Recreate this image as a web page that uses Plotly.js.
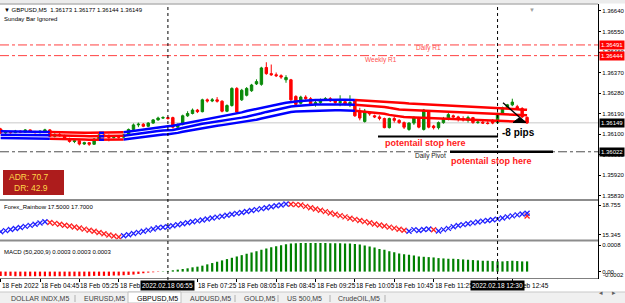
<!DOCTYPE html>
<html><head><meta charset="utf-8">
<script src="https://cdn.plot.ly/plotly-3.0.1.min.js"></script>
<style>html,body{margin:0;padding:0;background:#fff;overflow:hidden}#chart{width:625px;height:303px;}</style>
</head><body><div id="chart"></div>
<script>
// ---------- DATA ----------
const firstBarTime = "04:05";           // first visible M5 bar, 18 Feb 2022
const opens = [1.36122,1.36105,1.36109,1.36106,1.36113,1.36108,1.36118,1.36111,
1.36106,1.36113,1.36118,1.36090,1.36098,1.36092,1.36080,1.36067,1.36070,1.36056,
1.36062,1.36055,1.36078,1.36096,1.36090,1.36085,1.36088,1.36086,1.36096,1.36120,
1.36140,1.36143,1.36134,1.36148,1.36162,1.36170,1.36172,1.36172,1.36130,1.36142,
1.36180,1.36190,1.36205,1.36198,1.36250,1.36245,1.36250,1.36244,1.36200,1.36225,
1.36300,1.36250,1.36270,1.36290,1.36320,1.36318,1.36392,1.36365,1.36360,1.36356,
1.36338,1.36338,1.36265,1.36235,1.36262,1.36255,1.36230,1.36238,1.36250,1.36255,
1.36246,1.36238,1.36242,1.36232,1.36245,1.36200,1.36155,1.36195,1.36180,1.36175,
1.36168,1.36128,1.36168,1.36160,1.36150,1.36120,1.36148,1.36170,1.36120,1.36200,
1.36135,1.36128,1.36150,1.36165,1.36180,1.36175,1.36168,1.36160,1.36172,1.36150,
1.36152,1.36148,1.36160,1.36150,1.36190,1.36215,1.36228,1.36220,1.36212,1.36173];
const highs = [1.36127,1.36114,1.36112,1.36118,1.36116,1.36122,1.36120,1.36114,
1.36116,1.36123,1.36122,1.36103,1.36105,1.36097,1.36084,1.36075,1.36072,1.36066,
1.36065,1.36082,1.36100,1.36102,1.36098,1.36094,1.36095,1.36100,1.36124,1.36146,
1.36150,1.36148,1.36152,1.36166,1.36176,1.36178,1.36175,1.36176,1.36146,1.36185,
1.36200,1.36212,1.36210,1.36255,1.36256,1.36258,1.36262,1.36248,1.36230,1.36305,
1.36306,1.36298,1.36306,1.36320,1.36340,1.36395,1.36415,1.36405,1.36370,1.36362,
1.36358,1.36342,1.36270,1.36268,1.36270,1.36262,1.36248,1.36256,1.36262,1.36262,
1.36252,1.36270,1.36250,1.36270,1.36250,1.36215,1.36210,1.36200,1.36185,1.36182,
1.36172,1.36172,1.36178,1.36165,1.36155,1.36152,1.36178,1.36175,1.36210,1.36205,
1.36140,1.36155,1.36175,1.36192,1.36185,1.36180,1.36178,1.36180,1.36175,1.36158,
1.36158,1.36156,1.36165,1.36195,1.36220,1.36232,1.36255,1.36228,1.36218,1.36177];
const lows = [1.36100,1.36101,1.36102,1.36104,1.36104,1.36106,1.36108,1.36102,
1.36103,1.36110,1.36086,1.36085,1.36088,1.36076,1.36062,1.36060,1.36050,1.36052,
1.36048,1.36053,1.36075,1.36084,1.36068,1.36080,1.36079,1.36082,1.36092,1.36116,
1.36130,1.36130,1.36130,1.36145,1.36158,1.36166,1.36163,1.36124,1.36126,1.36138,
1.36175,1.36186,1.36192,1.36195,1.36238,1.36240,1.36238,1.36195,1.36196,1.36220,
1.36192,1.36245,1.36265,1.36285,1.36315,1.36312,1.36360,1.36355,1.36350,1.36342,
1.36325,1.36245,1.36225,1.36230,1.36250,1.36225,1.36220,1.36232,1.36245,1.36240,
1.36232,1.36222,1.36225,1.36218,1.36175,1.36160,1.36150,1.36180,1.36170,1.36160,
1.36125,1.36124,1.36150,1.36145,1.36122,1.36114,1.36140,1.36125,1.36115,1.36125,
1.36120,1.36120,1.36145,1.36160,1.36168,1.36155,1.36155,1.36150,1.36145,1.36145,
1.36144,1.36142,1.36143,1.36146,1.36185,1.36210,1.36222,1.36205,1.36170,1.36144];
const closes = [1.36105,1.36110,1.36106,1.36113,1.36108,1.36118,1.36111,1.36106,
1.36113,1.36118,1.36090,1.36098,1.36092,1.36080,1.36067,1.36070,1.36056,1.36062,
1.36055,1.36078,1.36096,1.36090,1.36085,1.36088,1.36086,1.36096,1.36120,1.36140,
1.36143,1.36134,1.36148,1.36162,1.36170,1.36172,1.36168,1.36130,1.36142,1.36180,
1.36190,1.36205,1.36198,1.36250,1.36245,1.36250,1.36244,1.36200,1.36225,1.36300,
1.36196,1.36292,1.36300,1.36315,1.36330,1.36390,1.36365,1.36360,1.36356,1.36350,
1.36348,1.36250,1.36230,1.36262,1.36255,1.36230,1.36238,1.36250,1.36255,1.36246,
1.36238,1.36242,1.36232,1.36238,1.36180,1.36170,1.36200,1.36188,1.36175,1.36168,
1.36128,1.36168,1.36160,1.36150,1.36130,1.36148,1.36172,1.36130,1.36205,1.36130,
1.36128,1.36150,1.36165,1.36185,1.36175,1.36168,1.36162,1.36172,1.36150,1.36152,
1.36148,1.36146,1.36148,1.36190,1.36215,1.36228,1.36240,1.36212,1.36175,1.36149];

// three-line moving-average band, 1 = blue (rising) segment, 0 = red
const maTop = [1.36112,1.36112,1.36111,1.36111,1.36111,1.36110,1.36110,1.36110,
1.36110,1.36110,1.36109,1.36109,1.36108,1.36108,1.36107,1.36107,1.36106,1.36106,1.36105,1.36105,1.36105,1.36105,1.36105,1.36105,1.36106,
1.36108,1.36111,1.36115,1.36118,1.36121,1.36125,1.36127,1.36129,1.36131,1.36134,1.36136,1.36140,1.36144,1.36149,1.36153,1.36158,1.36162,
1.36165,1.36169,1.36172,1.36176,1.36180,1.36184,1.36190,1.36195,1.36201,1.36206,1.36210,1.36215,1.36220,1.36224,1.36229,1.36233,1.36237,
1.36241,1.36243,1.36245,1.36247,1.36248,1.36249,1.36249,1.36250,1.36250,1.36250,1.36250,1.36250,1.36250,
1.36249,1.36248,1.36247,1.36246,1.36245,1.36244,1.36243,1.36241,1.36239,1.36237,1.36236,1.36234,1.36233,1.36232,1.36230,1.36229,1.36228,
1.36227,1.36226,1.36225,1.36224,1.36223,1.36222,1.36220,1.36219,1.36218,1.36217,1.36216,1.36216,1.36215,1.36213,1.36212,1.36210,1.36209,1.36207,1.36206];
const maMid = [1.36097,1.36097,1.36096,1.36096,1.36096,1.36096,1.36095,1.36095,
1.36095,1.36095,1.36094,1.36094,1.36093,1.36093,1.36092,1.36092,1.36091,1.36091,1.36090,1.36090,1.36090,1.36090,1.36090,1.36090,1.36091,
1.36092,1.36095,1.36099,1.36103,1.36106,1.36110,1.36112,1.36113,1.36115,1.36116,1.36118,1.36122,1.36127,1.36131,1.36136,1.36140,1.36145,
1.36148,1.36151,1.36154,1.36158,1.36161,1.36164,1.36168,1.36172,1.36176,1.36180,1.36186,1.36191,1.36197,1.36202,1.36207,1.36212,1.36216,
1.36221,1.36223,1.36225,1.36227,1.36228,1.36229,1.36229,1.36230,1.36230,1.36230,1.36230,1.36230,1.36230,
1.36228,1.36227,1.36225,1.36224,1.36222,1.36220,1.36219,1.36215,1.36211,1.36208,1.36207,1.36206,1.36205,1.36203,1.36202,1.36201,1.36200,
1.36199,1.36198,1.36197,1.36196,1.36195,1.36194,1.36194,1.36193,1.36192,1.36191,1.36190,1.36190,1.36189,1.36188,1.36187,1.36186,1.36184,1.36183,1.36182];
const maBot = [1.36082,1.36082,1.36081,1.36081,1.36081,1.36081,1.36080,1.36080,
1.36080,1.36080,1.36079,1.36079,1.36078,1.36078,1.36077,1.36077,1.36076,1.36076,1.36075,1.36075,1.36075,1.36075,1.36075,1.36075,1.36076,
1.36076,1.36079,1.36082,1.36086,1.36089,1.36092,1.36094,1.36096,1.36098,1.36099,1.36101,1.36105,1.36110,1.36114,1.36118,1.36123,1.36127,
1.36130,1.36133,1.36136,1.36139,1.36142,1.36145,1.36148,1.36151,1.36155,1.36158,1.36163,1.36168,1.36173,1.36178,1.36183,1.36188,1.36192,
1.36197,1.36199,1.36200,1.36201,1.36202,1.36203,1.36203,1.36204,1.36204,1.36204,1.36204,1.36204,1.36204,
1.36202,1.36200,1.36198,1.36196,1.36193,1.36191,1.36189,1.36184,1.36180,1.36176,1.36175,1.36174,1.36173,1.36172,1.36171,1.36170,1.36169,
1.36168,1.36167,1.36166,1.36165,1.36164,1.36164,1.36163,1.36162,1.36161,1.36160,1.36160,1.36159,1.36158,1.36157,1.36156,1.36155,1.36155,1.36154,1.36153];
const maUp = [1,1,1,1,1,1,1,1, 1,1, 0,0,0,0,0,0,0,0,0,0, 1, 0,0,0,0,
1,1,1,1,1,1,1,1,1,1,1,1,1,1,1,1,1,1,1,1,1,1,1,1,1,1,1,1,1,1,1,1,1,1,1,1,1,1,1,1,1,1,1,1,1,1,1,
0,0,0,0,0,0,0,0,0,0,0,0,0,0,0,0,0,0,0,0,0,0,0,0,0,0,0,0,0,0,0,0,0,0,0,0];

// Forex_Rainbow indicator values, 1 = blue cross, 0 = red cross
const rainbow = [15.72,15.84,15.96,16.08,16.20,16.32,16.44,16.56,16.70,16.84,
16.76,16.66,16.56,16.46,16.36,16.25,16.13,16.01,15.89,15.76,15.62,15.48,15.34,15.22,15.12,
15.25,15.38,15.51,15.64,15.77,15.90,16.03,16.16,16.23,16.29,16.40,16.51,16.62,16.73,16.84,16.95,17.05,
17.16,17.27,17.38,17.48,17.59,17.70,17.80,17.91,18.02,18.12,18.23,18.34,18.44,18.55,18.66,18.76,18.87,
18.84,18.80,18.75,18.60,18.45,18.30,18.15,18.00,17.85,17.70,17.55,17.40,17.25,17.12,16.99,16.86,16.73,
16.60,16.48,16.36,16.24,16.12,16.00,15.88,
15.76,15.95,15.86,15.96,16.02, 15.93,
15.80,15.95,16.10,16.28,16.42,16.52,16.62,16.72,16.82,16.92,17.00,17.08,17.15,17.28,17.40,17.52,17.63,17.74,17.82];
const rainbowUp = [1,1,1,1,1,1,1,1,1,1, 0,0,0,0,0,0,0,0,0,0,0,0,0,0,0,
1,1,1,1,1,1,1,1,1,1,1,1,1,1,1,1,1,1,1,1,1,1,1,1,1,1,1,1,1,1,1,1,1,1,
0,0,0,0,0,0,0,0,0,0,0,0,0,0,0,0,0,0,0,0,0,0,0,0, 1,1,1,1,1, 0,
1,1,1,1,1,1,1,1,1,1,1,1,1,1,1,1,1,1,1];
const rainbowRedLast = 17.50;

// MACD (50,200,9) histogram
const macd = [-0.00013,-0.00013,-0.00013,-0.00014,-0.00014,-0.00014,-0.00014,-0.00014,
-0.00014,-0.00014,-0.00014,-0.00014,-0.00014,-0.00014,-0.00014,-0.00014,-0.00014,-0.00014,-0.00014,
-0.00013,-0.00013,-0.00013,-0.00013,-0.00012,-0.00012,-0.00011,
-0.00010,-0.00009,-0.00007,-0.00005,-0.00003,-0.00002,-0.00001,0.00001,0.00002,
0.00004,0.00006,0.00008,0.00010,0.00013,0.00015,0.00018,0.00022,0.00026,0.00030,0.00034,0.00038,0.00042,
0.00046,0.00050,0.00054,0.00058,0.00062,0.00066,0.00070,0.00074,0.00077,0.00080,0.00083,0.00085,0.00086,
0.00087,0.00087,0.00087,0.00087,0.00087,0.00087,0.00086,0.00086,0.00086,0.00085,0.00085,0.00084,
0.00082,0.00079,0.00076,0.00073,0.00069,0.00066,0.00062,0.00059,0.00055,0.00053,0.00051,0.00049,
0.00046,0.00045,0.00044,0.00043,0.00041,0.00040,0.00039,0.00039,0.00038,0.00037,0.00036,0.00035,
0.00034,0.00033,0.00033,0.00032,0.00031,0.00031,0.00032,0.00033,0.00032,0.00031,0.00031];

// axis labels
const priceTicks = [1.36640,1.36550,1.36460,1.36370,1.36280,1.36190,1.36100,1.36010,1.35920,1.35830];
const rainbowTicks = [18.755, 15.345];
const macdTicks = [0.0008, 0];
const macdTickText = ["0.0008", "0.00"];
const timeTickBars = ["04:05","04:45","05:25","06:05","07:25","08:05","08:45","09:25","10:05","10:45","11:25","12:45"];
const timeTickText = ["18 Feb 2022","18 Feb 04:45","18 Feb 05:25","18 Feb 0","18 Feb 07:25","18 Feb 08:05","18 Feb 08:45","18 Feb 09:25","18 Feb 10:05","18 Feb 10:45","18 Feb 11:25","eb 12:45"];
const crossTimes = ["06:55","12:30"];
const crossText = ["2022.02.18 06:55","2022.02.18 12:30"];
const levels = {dailyR1:1.36491, weeklyR1:1.36444, dailyPivot:1.36022, bid:1.36149};
const tabs = ["DOLLAR INDX,M5","EURUSD,M5","GBPUSD,M5","AUDUSD,M5","GOLD,M5","US 500,M5","CrudeOIL,M5"];

// ---------- BUILD ----------
const W = 625, H = 303;
const px = v => v / W, py = v => 1 - v / H;
const [h0, m0] = firstBarTime.split(':').map(Number);
const times = opens.map((_, k) => { const m = h0 * 60 + m0 + 5 * k; return String(Math.floor(m / 60)).padStart(2, '0') + ':' + String(m % 60).padStart(2, '0'); });
const ix = t => times.indexOf(t);
const xi = p => ix("04:45") + (p - 40) / 4.92;

const FONT = "Liberation Sans, Arial, sans-serif";
const traces = [];
traces.push({type:'candlestick', x:times, open:opens, high:highs, low:lows, close:closes,
  xaxis:'x', yaxis:'y', whiskerwidth:0, hoverinfo:'skip',
  increasing:{line:{color:'#0a8a0a', width:1}, fillcolor:'#0a8a0a'},
  decreasing:{line:{color:'#ff0000', width:1}, fillcolor:'#ff0000'}});

function seg(vals, flags, want) {
  return vals.map((v, k) => (flags[k] === want || (k > 0 && flags[k - 1] === want)) ? v : null);
}
[maTop, maMid, maBot].forEach(arr => {
  traces.push({type:'scatter', mode:'lines', x:times, y:seg(arr, maUp, 0), line:{color:'#ff0000', width:2.5}, connectgaps:false, hoverinfo:'skip', xaxis:'x', yaxis:'y'});
  traces.push({type:'scatter', mode:'lines', x:times, y:seg(arr, maUp, 1), line:{color:'#0000ff', width:2.5}, connectgaps:false, hoverinfo:'skip', xaxis:'x', yaxis:'y'});
});

traces.push({type:'scatter', mode:'markers', x:times, y:rainbow.map((v,k)=>rainbowUp[k]===0?v:null),
  marker:{symbol:'x-thin', size:5, line:{color:'#ff2020', width:1.3}}, xaxis:'x', yaxis:'y2', hoverinfo:'skip'});
traces.push({type:'scatter', mode:'markers', x:[times[times.length-1]], y:[rainbowRedLast],
  marker:{symbol:'x-thin', size:5, line:{color:'#ff2020', width:1.3}}, xaxis:'x', yaxis:'y2', hoverinfo:'skip'});
traces.push({type:'scatter', mode:'markers', x:times, y:rainbow.map((v,k)=>rainbowUp[k]===1?v:null),
  marker:{symbol:'x-thin', size:5, line:{color:'#2020ff', width:1.3}}, xaxis:'x', yaxis:'y2', hoverinfo:'skip'});

traces.push({type:'bar', x:times, y:macd, width:0.45, marker:{color:macd.map(v=>v<0?'#ff0000':'#008000'), line:{width:0}},
  xaxis:'x', yaxis:'y3', hoverinfo:'skip'});

const shapes = [];
const ann = [];
shapes.push({type:'rect', xref:'paper', yref:'paper', x0:0, x1:1, y0:py(3.5), y1:1, fillcolor:'#ececec', line:{width:0}});
shapes.push({type:'line', xref:'paper', yref:'paper', x0:0, x1:px(598), y0:py(4), y1:py(4), line:{color:'#909090', width:1}});
shapes.push({type:'rect', xref:'paper', yref:'paper', x0:0, x1:px(598), y0:py(201), y1:py(199), fillcolor:'#8c8c8c', line:{width:0}});
shapes.push({type:'rect', xref:'paper', yref:'paper', x0:0, x1:px(598), y0:py(241.5), y1:py(239.5), fillcolor:'#8c8c8c', line:{width:0}});
shapes.push({type:'line', xref:'paper', yref:'paper', x0:0, x1:px(598), y0:py(278.5), y1:py(278.5), line:{color:'#808080', width:1}});
shapes.push({type:'line', xref:'paper', yref:'paper', x0:px(598.5), x1:px(598.5), y0:py(279), y1:py(4), line:{color:'#000', width:1}});
shapes.push({type:'line', xref:'paper', yref:'y', x0:0, x1:px(598), y0:levels.bid, y1:levels.bid, line:{color:'#c8c8c8', width:1}, layer:'below'});
shapes.push({type:'line', xref:'paper', yref:'y', x0:0, x1:px(598), y0:levels.dailyR1, y1:levels.dailyR1, line:{color:'#ff4040', width:1, dash:'dashdot'}});
shapes.push({type:'line', xref:'paper', yref:'y', x0:0, x1:px(598), y0:levels.weeklyR1, y1:levels.weeklyR1, line:{color:'#ff4040', width:1, dash:'dashdot'}});
shapes.push({type:'line', xref:'paper', yref:'y', x0:0, x1:px(598), y0:levels.dailyPivot, y1:levels.dailyPivot, line:{color:'#505050', width:1, dash:'dashdot'}});
shapes.push({type:'line', xref:'x', yref:'y', x0:xi(378), x1:xi(498), y0:1.36089, y1:1.36089, line:{color:'#000', width:2}});
shapes.push({type:'line', xref:'x', yref:'y', x0:xi(450), x1:xi(553), y0:levels.dailyPivot, y1:levels.dailyPivot, line:{color:'#000', width:2.5}});
shapes.push({type:'line', xref:'x', yref:'y', x0:xi(503), x1:xi(525), y0:1.36237, y1:1.36153, line:{color:'#000', width:1.3}});
shapes.push({type:'path', xref:'paper', yref:'paper', path:`M ${px(513)} ${py(122.5)} L ${px(526)} ${py(122.5)} L ${px(519)} ${py(118)} Z`, fillcolor:'#000', line:{color:'#000', width:1}});
crossTimes.forEach(t => shapes.push({type:'line', xref:'x', yref:'paper', x0:ix(t), x1:ix(t), y0:py(280), y1:py(4), line:{color:'#000', width:1, dash:'dot'}}));
shapes.push({type:'rect', xref:'paper', yref:'paper', x0:px(3), x1:px(64), y0:py(195), y1:py(170), fillcolor:'#ad1c1c', line:{width:0}});
shapes.push({type:'rect', xref:'paper', yref:'paper', x0:0, x1:1, y0:0, y1:py(292), fillcolor:'#f0f0f0', line:{width:0}});
shapes.push({type:'line', xref:'paper', yref:'paper', x0:0, x1:1, y0:py(292), y1:py(292), line:{color:'#c8c8c8', width:1}});
shapes.push({type:'rect', xref:'paper', yref:'paper', x0:px(128), x1:px(181), y0:0, y1:py(292), fillcolor:'#ffffff', line:{color:'#c0c0c0', width:1}});
const tabX = [9, 82, 135, 188, 242, 285, 336];
const sepX = [75, 235, 278, 330, 385];
sepX.forEach(s => shapes.push({type:'line', xref:'paper', yref:'paper', x0:px(s), x1:px(s), y0:py(302), y1:py(295), line:{color:'#b0b0b0', width:1}}));
tabs.forEach((t, k) => ann.push({xref:'paper', yref:'paper', x:px(tabX[k]), y:py(298), xanchor:'left', yanchor:'middle', text:t, showarrow:false,
  font:{family:FONT, size:7, color: k===2 ? '#000' : '#404040'}}));
ann.push({xref:'paper', yref:'paper', x:px(605), y:py(298), text:'◂', showarrow:false, font:{size:7, color:'#606060'}});
ann.push({xref:'paper', yref:'paper', x:px(618), y:py(298), text:'▸', showarrow:false, font:{size:7, color:'#606060'}});

timeTickBars.forEach((t, k) => ann.push({xref:'x', yref:'paper', x:ix(t), y:py(285), xanchor:'left', yanchor:'middle', text:timeTickText[k], showarrow:false,
  font:{family:FONT, size:6.5, color:'#000'}, xshift: k===11 ? 9 : -1}));
crossTimes.forEach((t, k) => ann.push({xref:'x', yref:'paper', x:ix(t), y:py(285), xanchor:'center', yanchor:'middle', text:crossText[k], showarrow:false,
  font:{family:FONT, size:6.5, color:'#fff'}, bgcolor:'#000', borderpad:1}));

ann.push({xref:'paper', yref:'paper', x:px(2), y:py(10), xanchor:'left', yanchor:'middle', showarrow:false,
  text:'▼ GBPUSD,M5  ' + [opens, highs, lows, closes].map(a => a[a.length-1].toFixed(5)).join(' '), font:{family:FONT, size:6, color:'#000'}});
ann.push({xref:'paper', yref:'paper', x:px(2), y:py(19), xanchor:'left', yanchor:'middle', showarrow:false, text:'Sunday Bar Ignored', font:{family:FONT, size:6, color:'#000'}});
ann.push({xref:'paper', yref:'paper', x:px(2), y:py(207), xanchor:'left', yanchor:'middle', showarrow:false, text:'Forex_Rainbow 17.5000 17.7000', font:{family:FONT, size:6, color:'#000'}});
ann.push({xref:'paper', yref:'paper', x:px(2), y:py(252), xanchor:'left', yanchor:'middle', showarrow:false, text:'MACD (50,200,9) 0.0003 0.0003 0.0003', font:{family:FONT, size:6, color:'#000'}});
ann.push({xref:'paper', yref:'paper', x:px(537), y:py(5), showarrow:false, text:'▼', font:{size:6, color:'#a0a0a0'}});

ann.push({xref:'x', yref:'y', x:xi(428), y:1.36476, showarrow:false, text:'Daily R1', font:{family:FONT, size:6.5, color:'#ff5050'}});
ann.push({xref:'x', yref:'y', x:xi(381), y:1.36426, showarrow:false, text:'Weekly R1', font:{family:FONT, size:6.5, color:'#ff5050'}});
ann.push({xref:'x', yref:'y', x:xi(430), y:1.36002, showarrow:false, text:'Daily Pivot', font:{family:FONT, size:6.5, color:'#202020'}});
ann.push({xref:'x', yref:'y', x:xi(500), y:1.36105, xanchor:'left', showarrow:false, text:'<b>-8 pips</b>', font:{family:FONT, size:10, color:'#000'}});
ann.push({xref:'x', yref:'y', x:xi(425), y:1.36059, showarrow:false, text:'<b>potentail stop here</b>', font:{family:FONT, size:9, color:'#ff2020'}});
ann.push({xref:'x', yref:'y', x:xi(491), y:1.35980, showarrow:false, text:'<b>potentail stop here</b>', font:{family:FONT, size:9, color:'#ff2020'}});
ann.push({xref:'paper', yref:'paper', x:px(7), y:py(177), xanchor:'left', showarrow:false, text:'ADR: 70.7', font:{family:FONT, size:8.5, color:'#ffd84a'}});
ann.push({xref:'paper', yref:'paper', x:px(12), y:py(188), xanchor:'left', showarrow:false, text:'DR: 42.9', font:{family:FONT, size:8.5, color:'#ffd84a'}});

const boxes = [[levels.dailyR1, '#ff0000'], [levels.weeklyR1, '#ff0000'], [levels.bid, '#000'], [levels.dailyPivot, '#000']];
boxes.forEach(([v, c]) => ann.push({xref:'paper', yref:'y', x:px(599), y:v, xanchor:'left', yanchor:'middle', showarrow:false,
  text:v.toFixed(5), bgcolor:c, borderpad:1, font:{family:FONT, size:6, color:'#fff'}}));
ann.push({xref:'paper', yref:'y3', x:px(601), y:-0.00011, xanchor:'left', yanchor:'middle', showarrow:false, text:'-0.0002', font:{family:FONT, size:6, color:'#000'}});

const axBase = {showgrid:false, zeroline:false, fixedrange:true};
const tf = {family:FONT, size:6, color:'#000'};
const layout = {
  width:W, height:H, margin:{l:0, r:0, t:0, b:0}, paper_bgcolor:'#fff', plot_bgcolor:'#fff', showlegend:false,
  font:{family:FONT, size:6, color:'#000'},
  xaxis:Object.assign({}, axBase, {type:'category', domain:[0, px(598)], range:[xi(0), xi(598)], anchor:'y3',
     tickvals:timeTickBars, ticktext:timeTickBars.map(()=>''), ticks:'outside', ticklen:3, tickcolor:'#000', showline:false, rangeslider:{visible:false}}),
  yaxis:Object.assign({}, axBase, {domain:[py(199), py(4)], range:[1.358147, 1.366707], side:'right', anchor:'x',
     tickvals:priceTicks, ticktext:priceTicks.map(v=>v.toFixed(5)), ticks:'outside', ticklen:2, tickcolor:'#000', tickfont:tf}),
  yaxis2:Object.assign({}, axBase, {domain:[py(239.5), py(201)], range:[14.83, 19.21], side:'right', anchor:'x',
     tickvals:rainbowTicks, ticktext:rainbowTicks.map(String), ticks:'outside', ticklen:2, tickcolor:'#000', tickfont:tf}),
  yaxis3:Object.assign({}, axBase, {domain:[py(278), py(241.5)], range:[-0.000194, 0.000914], side:'right', anchor:'x',
     tickvals:macdTicks, ticktext:macdTickText, ticks:'outside', ticklen:2, tickcolor:'#000', tickfont:tf}),
  shapes:shapes, annotations:ann
};
Plotly.newPlot('chart', traces, layout, {staticPlot:true, displayModeBar:false});
</script></body></html>
